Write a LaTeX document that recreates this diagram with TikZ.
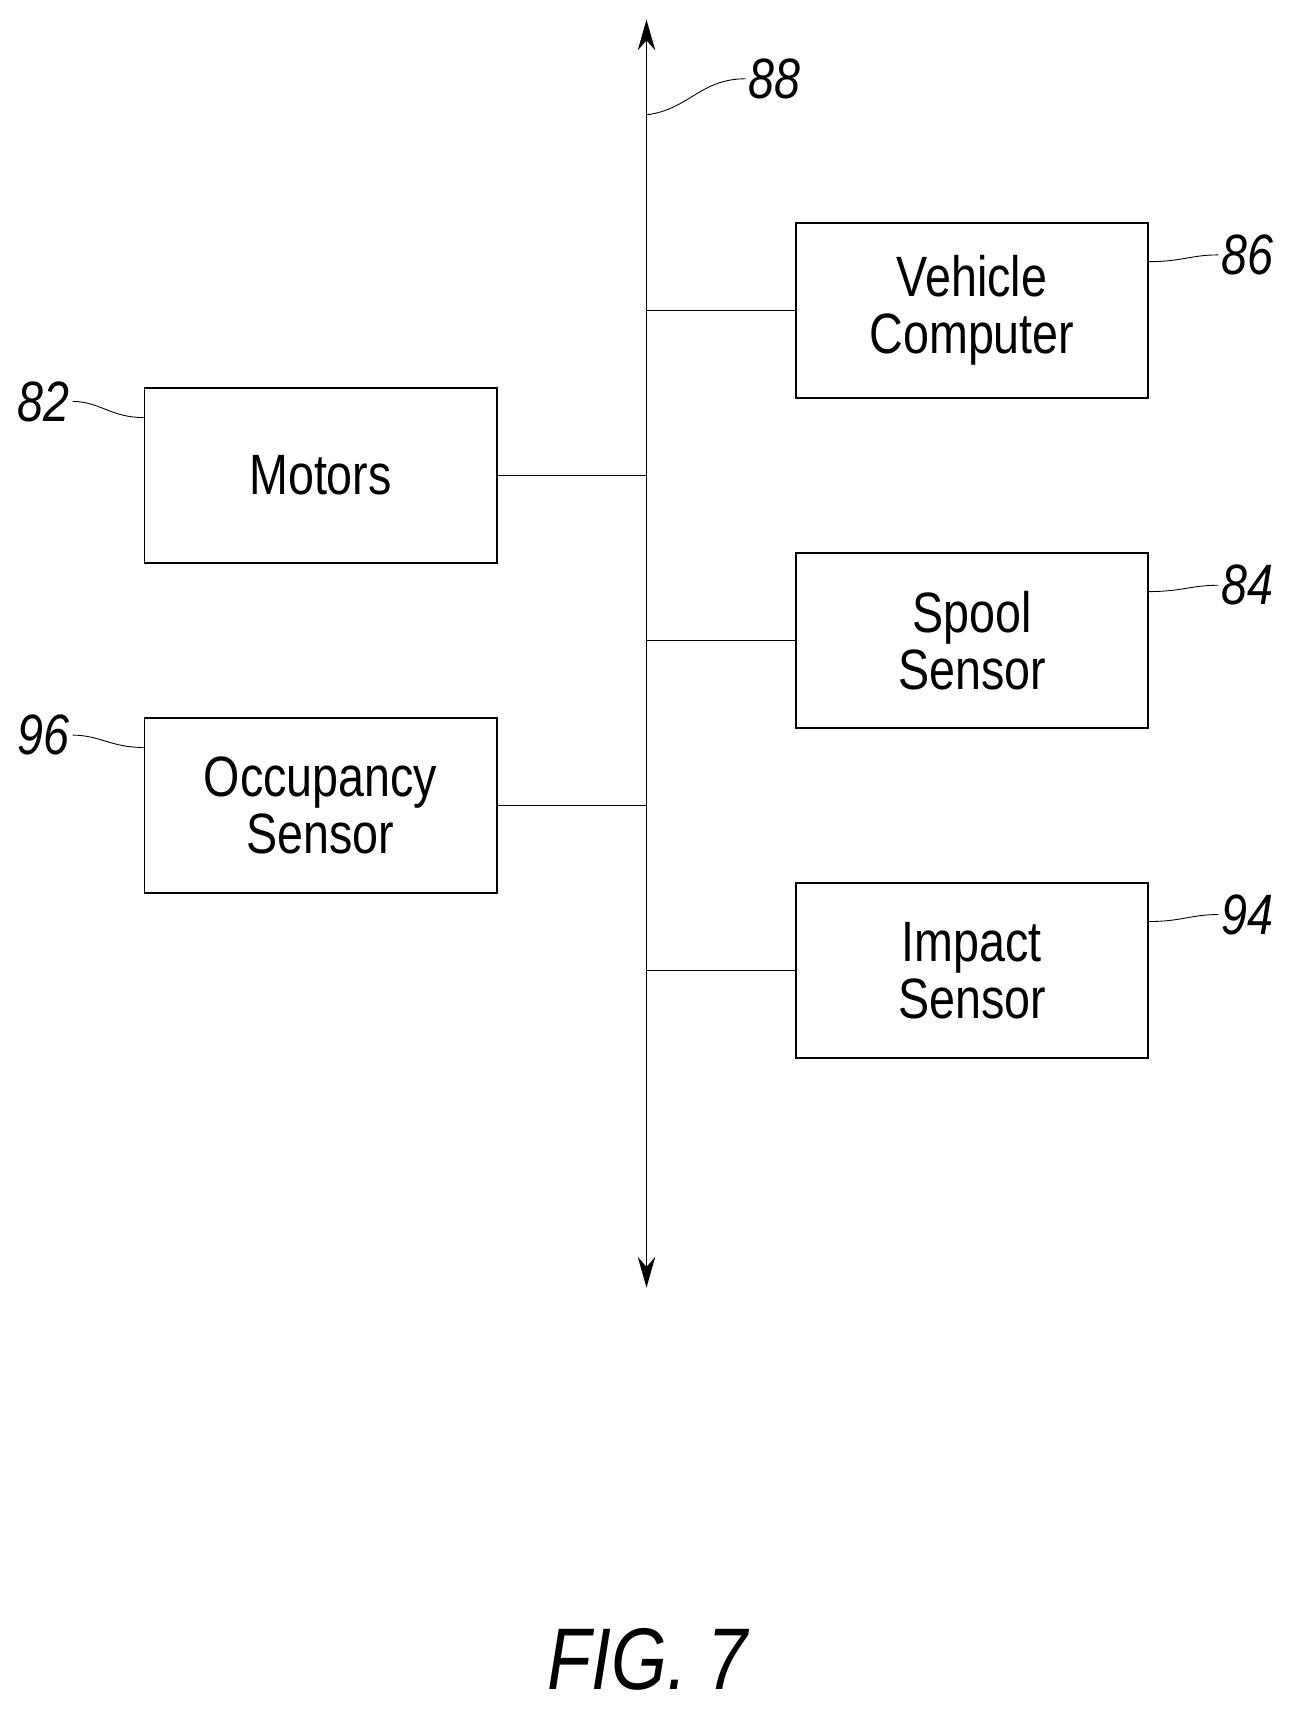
\documentclass[tikz,border=0pt]{standalone}
\usepackage{fontspec}
\setmainfont{Liberation Sans}[FakeStretch=0.82]
\usetikzlibrary{positioning,arrows.meta}
\tikzset{block/.style={draw=black,thick,minimum width=161pt,minimum height=80pt,align=center,font=\fontsize{26}{26}\selectfont},
  refnum/.style={font=\fontsize{26}{30}\selectfont\itshape,inner sep=1pt},
  lead/.style={thin}}
\begin{document}
\begin{tikzpicture}[x=0.5pt,y=-0.5pt,semithick]
\useasboundingbox (0,0) rectangle (1190,1576);
% bus
\coordinate (bt) at (591,18);
\coordinate (bb) at (591,1177);
\draw[{Stealth[length=14pt,width=8pt]}-{Stealth[length=14pt,width=8pt]},thick] (bt) -- (bb);
\node[refnum] (n88) at (708,72) {88};
\draw[lead] (591,105) .. controls (630,100) and (640,72) .. (n88.west);

% right column
\node[block] (vc) at (888.5,284) {Vehicle\\Computer};
\node[block, below=70pt of vc] (sp) {Spool\\Sensor};
\node[block, below=70pt of sp] (im) {Impact\\Sensor};
% left column
\node[block] (mo) at (293,434.5) {Motors};
\node[block, below=70pt of mo] (oc) {Occupancy\\Sensor};

\foreach \b in {vc,sp,im,mo,oc}
  \draw (\b) -- (\b -| bt);

% numerals
\node[refnum] (n86) at (1140,233) {86};
\node[refnum] (n84) at (1140,535) {84};
\node[refnum] (n94) at (1140,836) {94};
\node[refnum] (n82) at (40,367) {82};
\node[refnum] (n96) at (40,672) {96};
\draw[lead] ([yshift=-18pt]vc.north east) .. controls +(30,0) and +(-25,0) .. (n86.west);
\draw[lead] ([yshift=-18pt]sp.north east) .. controls +(30,0) and +(-25,0) .. (n84.west);
\draw[lead] ([yshift=-18pt]im.north east) .. controls +(30,0) and +(-25,0) .. (n94.west);
\draw[lead] (n82.east) .. controls +(25,0) and +(-30,0) .. ([yshift=-14pt]mo.north west);
\draw[lead] (n96.east) .. controls +(25,0) and +(-30,0) .. ([yshift=-14pt]oc.north west);

\node[font=\fontsize{40}{44}\selectfont\itshape] (fig) at (592,1517) {FIG. 7};
\end{tikzpicture}
\end{document}
